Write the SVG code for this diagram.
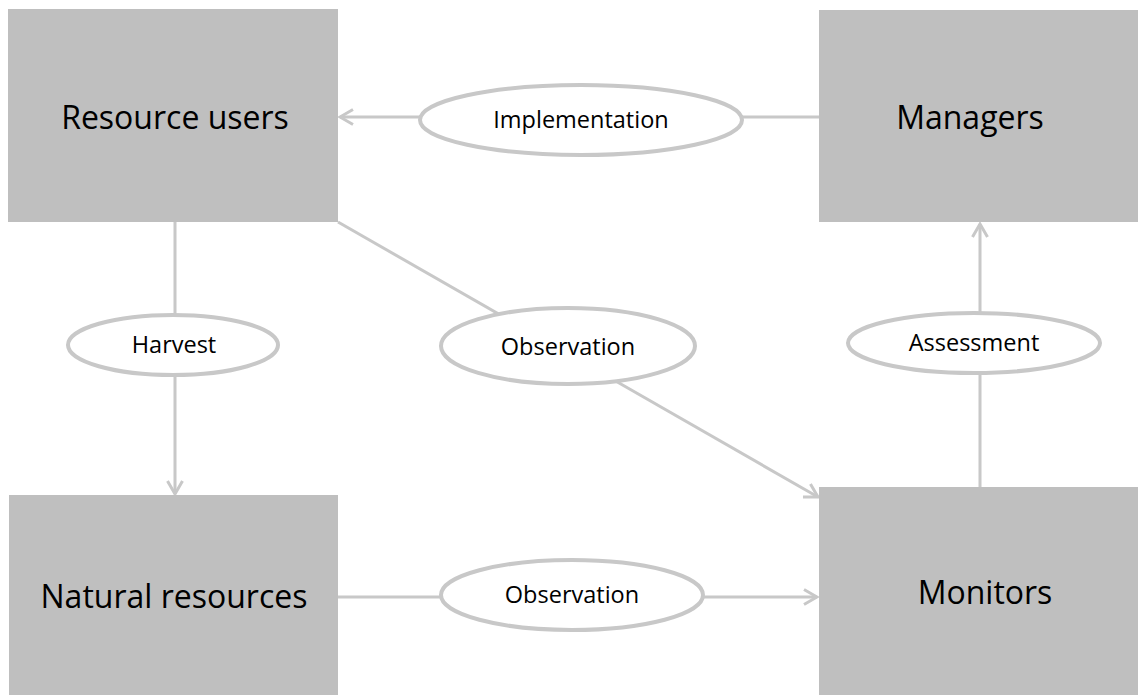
<svg xmlns="http://www.w3.org/2000/svg" width="1138" height="695" viewBox="0 0 1138 695">
<defs>
<style>
.box{fill:#bfbfbf;}
.big{font-family:"Open Sans","Liberation Sans",sans-serif;font-size:32px;fill:#000;text-anchor:middle;}
.lbl{font-family:"Open Sans","Liberation Sans",sans-serif;font-size:23.5px;fill:#000;text-anchor:middle;}
.ell{fill:#fff;stroke:#c8c8c8;stroke-width:4;}
.ln{stroke:#c8c8c8;stroke-width:3;fill:none;}
</style>
<marker id="arrL" viewBox="0 0 18 18" refX="16" refY="9" markerWidth="18" markerHeight="18" markerUnits="userSpaceOnUse" orient="auto">
<path d="M3,1.5 L16,9 L3,16.5" fill="none" stroke="#c8c8c8" stroke-width="3"/>
</marker>
</defs>
<rect width="1138" height="695" fill="#fff"/>
<g id="connectors">
<line class="ln" x1="820" y1="117" x2="340" y2="117" marker-end="url(#arrL)"/>
<line class="ln" x1="175" y1="222" x2="175" y2="494" marker-end="url(#arrL)"/>
<line class="ln" x1="338" y1="222" x2="818" y2="497" marker-end="url(#arrL)"/>
<line class="ln" x1="980" y1="487" x2="980" y2="224" marker-end="url(#arrL)"/>
<line class="ln" x1="338" y1="597" x2="817" y2="597" marker-end="url(#arrL)"/>
</g>
<g id="resource-users">
<rect class="box" x="8" y="9" width="330" height="213"/>
<text class="big" x="175" y="129">Resource users</text>
</g>
<g id="managers">
<rect class="box" x="819" y="10" width="319" height="212"/>
<text class="big" x="970" y="129">Managers</text>
</g>
<g id="natural-resources">
<rect class="box" x="9" y="495" width="329" height="200"/>
<text class="big" x="174" y="608">Natural resources</text>
</g>
<g id="monitors">
<rect class="box" x="819" y="487" width="319" height="208"/>
<text class="big" x="985" y="604">Monitors</text>
</g>
<g id="implementation">
<ellipse class="ell" cx="581" cy="120" rx="161" ry="35"/>
<text class="lbl" x="581" y="128">Implementation</text>
</g>
<g id="harvest">
<ellipse class="ell" cx="173" cy="345" rx="105" ry="30"/>
<text class="lbl" x="174" y="353">Harvest</text>
</g>
<g id="observation-1">
<ellipse class="ell" cx="568" cy="346" rx="127" ry="38"/>
<text class="lbl" x="568" y="355">Observation</text>
</g>
<g id="assessment">
<ellipse class="ell" cx="974" cy="343" rx="126" ry="30"/>
<text class="lbl" x="974" y="351">Assessment</text>
</g>
<g id="observation-2">
<ellipse class="ell" cx="572" cy="595" rx="131" ry="35"/>
<text class="lbl" x="572" y="603">Observation</text>
</g>
</svg>
